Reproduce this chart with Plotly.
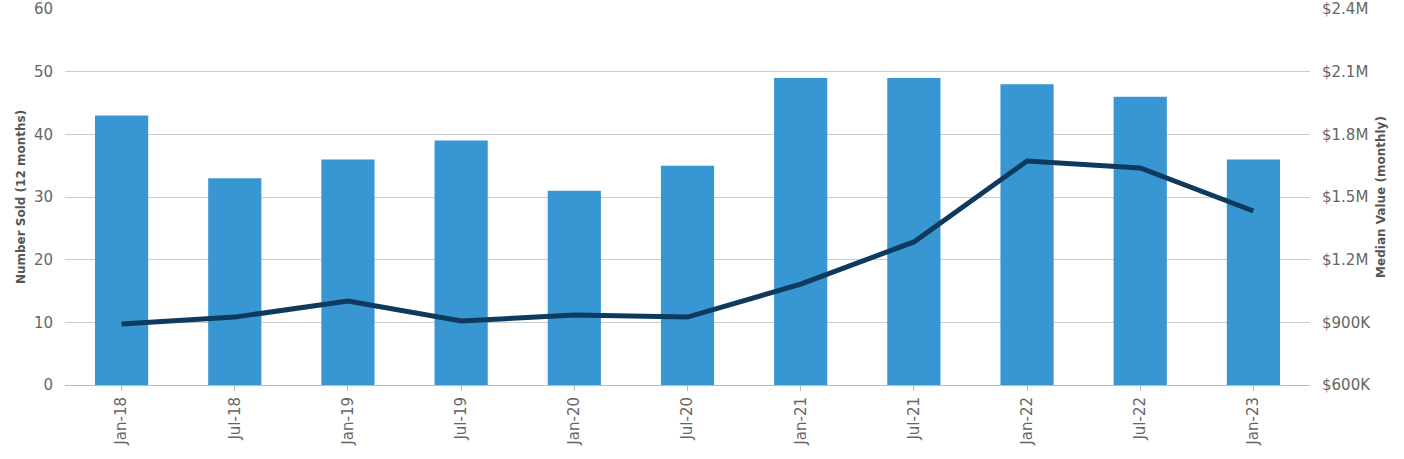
import plotly.graph_objects as go

categories = ["Jan-18", "Jul-18", "Jan-19", "Jul-19", "Jan-20", "Jul-20",
              "Jan-21", "Jul-21", "Jan-22", "Jul-22", "Jan-23"]
number_sold = [43, 33, 36, 39, 31, 35, 49, 49, 48, 46, 36]
median_value = [892000, 925000, 1002000, 906000, 935000, 925000,
                1083000, 1285000, 1672000, 1639000, 1433000]
left_ticks = [0, 10, 20, 30, 40, 50, 60]
right_tickvals = [600000, 900000, 1200000, 1500000, 1800000, 2100000, 2400000]
right_ticktext = ["$600K", "$900K", "$1.2M", "$1.5M", "$1.8M", "$2.1M", "$2.4M"]

FONT = "DejaVu Sans"
TICK_COLOR = "#666666"

fig = go.Figure()
fig.add_trace(go.Bar(x=categories, y=number_sold, name="Number Sold (12 months)",
                     marker=dict(color="#3896d3", line=dict(width=0)), yaxis="y"))
fig.add_trace(go.Scatter(x=categories, y=median_value, name="Median Value (monthly)",
                         mode="lines", line=dict(color="#0e3a5e", width=5),
                         yaxis="y2"))

fig.update_layout(
    width=1404, height=459,
    margin=dict(l=65, r=94, t=9, b=74),
    paper_bgcolor="white", plot_bgcolor="white",
    showlegend=False,
    bargap=0.53,
    font=dict(family=FONT, color=TICK_COLOR),
    xaxis=dict(type="category", tickangle=-90, tickfont=dict(size=15, color=TICK_COLOR),
               ticks="outside", ticklen=5, tickcolor="#bbbbbb", automargin=False,
               showline=True, linecolor="#bbbbbb", linewidth=1, showgrid=False),
    yaxis=dict(range=[0, 60], tickvals=left_ticks, showgrid=True, gridcolor="#cccccc",
               gridwidth=1, zeroline=False, tickfont=dict(size=15, color=TICK_COLOR),
               ticks="", ticklabelstandoff=11, automargin=False,
               title=dict(text="<b>Number Sold (12 months)</b>",
                          font=dict(size=12, color="#555555"), standoff=5)),
    yaxis2=dict(range=[600000, 2400000], tickvals=right_tickvals, ticktext=right_ticktext,
                overlaying="y", side="right", showgrid=False, zeroline=False,
                tickfont=dict(size=15, color=TICK_COLOR), ticklabelstandoff=11,
                automargin=False,
                title=dict(text="<b>Median Value (monthly)</b>",
                           font=dict(size=12, color="#555555"), standoff=6)),
)

fig.write_html("out.html", config={"displayModeBar": False},
               post_script="document.body.style.margin='0';")
